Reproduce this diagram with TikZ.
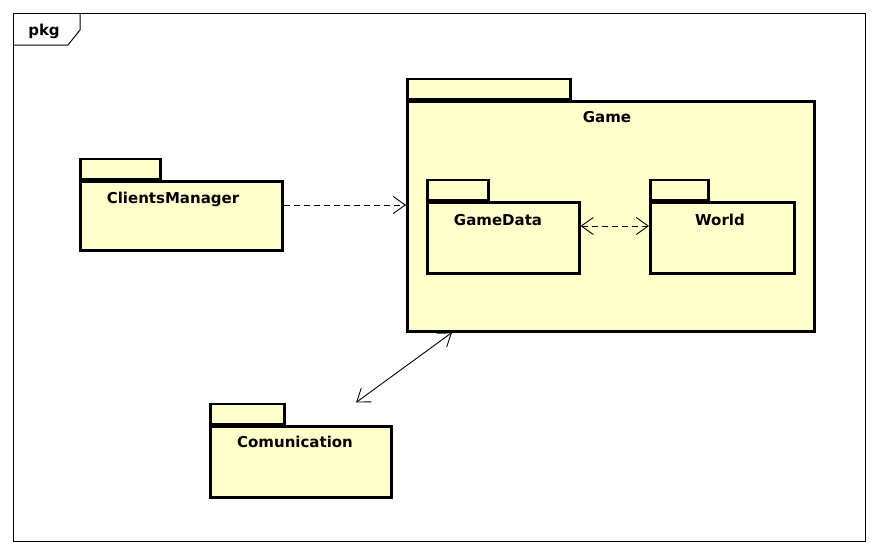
\documentclass[tikz,border=0pt]{standalone}
\usepackage{fontspec}
\setmainfont{DejaVu Sans}
\usetikzlibrary{arrows.meta}

\begin{document}
\begin{tikzpicture}[x=1pt, y=-1pt]

\tikzset{pkgbody/.style = {draw, line width=2.5pt, fill=pkgfill, anchor=north west, inner sep=0pt}}
\tikzset{pkgtab/.style = {draw, line width=2.5pt, fill=pkgfill, anchor=south west, inner sep=0pt, minimum height=20pt}}
\tikzset{pkgname/.style = {font=\bfseries\fontsize{15}{17}\selectfont, anchor=base}}
\tikzset{dep/.style = {dash pattern=on 6pt off 4pt, line width=0.9pt}}
\tikzset{barb/.tip = {Straight Barb[length=12pt,width=17pt]}}
\definecolor{pkgfill}{RGB}{255,255,204}

\useasboundingbox (0,0) rectangle (878,554);
% frame
\draw[line width=1pt] (13,13) rectangle (865,541);
\draw[line width=1pt] (13,45) -- (68,45) -- (80,30) -- (80,13);
\node[font=\bfseries\fontsize{15}{17}\selectfont, anchor=base] (frametitle) at (44,35) {pkg};

% packages
\node[pkgbody, minimum width=407pt, minimum height=230pt] (game) at (406,100) {};
\node[pkgtab, minimum width=163pt] (gametab) at (game.north west) {};
\node[pkgname] (gamelbl) at (607,122) {Game};

\node[pkgbody, minimum width=202pt, minimum height=69pt] (cm) at (79,180) {};
\node[pkgtab, minimum width=80pt] (cmtab) at (cm.north west) {};
\node[pkgname] (cmlbl) at (173,203) {ClientsManager};

\node[pkgbody, minimum width=152pt, minimum height=71pt] (gd) at (426,201) {};
\node[pkgtab, minimum width=61pt] (gdtab) at (gd.north west) {};
\node[pkgname] (gdlbl) at (498,225) {GameData};

\node[pkgbody, minimum width=144pt, minimum height=71pt] (world) at (649,201) {};
\node[pkgtab, minimum width=58pt] (worldtab) at (world.north west) {};
\node[pkgname] (worldlbl) at (720,225) {World};

\node[pkgbody, minimum width=181pt, minimum height=71pt] (comm) at (209,425) {};
\node[pkgtab, minimum width=74pt] (commtab) at (comm.north west) {};
\node[pkgname] (commlbl) at (295,447) {Comunication};

% dependencies
\draw[dep, -barb] (cm.east |- 0,205) -- (game.west |- 0,205);
\draw[dep, barb-barb] (gd.east |- 0,226) -- (world.west |- 0,226);
\draw[line width=0.9pt, barb-barb] ([xshift=46pt]game.south west) -- ([xshift=147pt]commtab.north west);

\end{tikzpicture}
\end{document}
